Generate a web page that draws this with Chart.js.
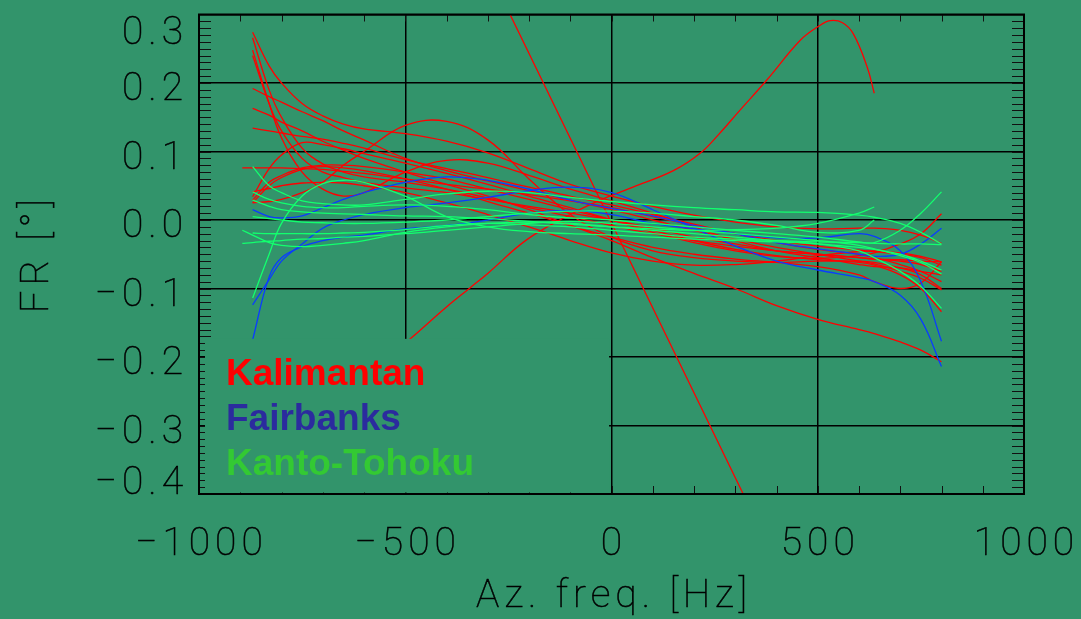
<!DOCTYPE html>
<html lang="en">
<head>
  <meta charset="UTF-8">
  <title>FR vs azimuth frequency</title>
  <script src="https://cdn.jsdelivr.net/npm/chart.js"></script>
  <style>
    html, body { margin: 0; padding: 0; background: #32946b; }
    #wrap { width: 1081px; height: 619px; position: relative; }
  </style>
</head>
<body>
  <div id="wrap"><canvas id="frChart"></canvas></div>

  <script>
    // Azimuth frequency grid [Hz] shared by the fitted curves
    const freqs = [-895, -870, -830, -800, -750, -700, -650, -600, -500, -400, -300, -200, -100,
                   0, 100, 200, 300, 400, 500, 600, 637, 700, 750, 800];

    // FR [deg], one row per curve
    const kalimantan = [
      [null, .274, .225, .2, .17, .152, .14, .133, .126, .115, .098, .075, .052, .035, .02, .007, -.003, -.01, -.013, -.012, -.012, -.015, -.022, -.034],
      [null, .266, .19, .15, .105, .082, .07, .063, .055, .045, .032, .018, .005, -.008, -.02, -.03, -.038, -.045, -.05, -.055, -.057, -.06, -.065, -.075],
      [null, .025, .027, .03, .04, .055, .08, .1, .138, .144, .117, .06, .008, -.025, -.045, -.055, -.06, -.062, -.06, -.06, -.062, -.07, -.08, -.1],
      [null, .248, .17, .12, .07, .045, .035, .04, .07, .087, .083, .065, .045, .028, .01, -.01, -.03, -.045, -.055, -.065, -.068, -.07, -.075, -.08],
      [null, .24, .17, .13, .09, .07, .062, .055, .047, .04, .03, .02, .01, 0, -.012, -.025, -.035, -.045, -.05, -.055, -.057, -.058, -.06, -.061],
      [null, .192, .18, .172, .158, .145, .13, .117, .09, .072, .057, .043, .029, .015, 0, -.015, -.028, -.04, -.05, -.06, -.064, -.075, -.085, -.102],
      [null, .163, .153, .143, .13, .115, .102, .09, .07, .052, .035, .015, -.008, -.03, -.055, -.078, -.1, -.125, -.145, -.16, -.166, -.178, -.19, -.207],
      [null, .134, .13, .127, .122, .118, .112, .105, .088, .075, .062, .048, .035, .022, .008, -.006, -.02, -.033, -.043, -.05, -.055, -.065, -.075, -.09],
      [.076, .076, .076, .076, .075, .074, .071, .068, .06, .052, .045, .037, .028, .018, .005, -.008, -.02, -.03, -.038, -.044, -.046, -.05, -.055, -.066],
      [null, .034, .075, .095, .113, .11, .104, .097, .083, .068, .052, .035, .018, 0, -.018, -.033, -.045, -.053, -.056, -.052, -.048, -.035, -.02, .009],
      [null, .029, .055, .065, .076, .08, .08, .078, .07, .06, .045, .03, .015, 0, -.015, -.03, -.043, -.052, -.058, -.062, -.066, -.08, -.1, -.134],
      [null, .025, .05, .062, .074, .078, .076, .072, .06, .045, .027, .01, -.008, -.025, -.04, -.05, -.057, -.062, -.068, -.08, -.09, -.1, -.092, -.061],
      [null, .041, .046, .05, .054, .055, .054, .05, .04, .025, .008, -.01, -.03, -.048, -.06, -.066, -.065, -.06, -.052, -.046, -.045, -.048, -.053, -.061]
    ];
    // two Kalimantan curves with their own frequency range
    const bumpFreqs = [-540, -485, -400, -344, -300, -206, -100, -28, 52, 150, 214, 260, 311, 376, 457, 500, 530, 560, 586, 620, 637];
    const bumpFR = [-.2, -.172, -.127, -.0995, -.078, -.029, .008, .029, .048, .072, .097, .125, .16, .204, .262, .282, .291, .288, .272, .223, .185];
    const steepFreqs = [-300, 350];
    const steepFR = [.367, -.438];

    const fairbanks = [
      [null, .015, .005, .003, .006, .018, .03, .04, .055, .063, .058, .045, .029, .017, .006, -.008, -.02, -.033, -.042, -.05, -.053, -.05, -.035, -.012],
      [null, -.124, -.087, -.06, -.035, -.012, 0, .008, .018, .025, .033, .043, .048, .04, .015, -.012, -.038, -.06, -.073, -.084, -.09, -.11, -.145, -.214],
      [null, -.175, -.083, -.055, -.039, -.03, -.025, -.022, -.013, -.008, 0, .01, .014, .008, -.005, -.013, -.02, -.026, -.026, -.02, -.024, -.045, -.09, -.177]
    ];

    const kantoTohoku = [
      [null, .078, .05, .04, .028, .024, .022, .022, .03, .038, .042, .04, .033, .027, .022, .018, .015, .012, .011, .007, .004, -.005, -.018, -.035],
      [null, .041, .03, .025, .02, .018, .018, .02, .022, .02, .015, .008, .003, 0, -.005, -.01, -.015, -.02, -.025, -.032, -.033, -.015, .01, .041],
      [null, .029, .02, .015, .012, .01, .009, .008, .006, .005, .002, -.002, -.006, -.01, -.013, -.015, -.014, -.012, -.005, .01, .019, null, null, null],
      [null, .005, .002, 0, -.003, -.004, -.005, -.005, -.003, 0, .005, .01, .013, .013, .01, .005, 0, -.008, -.018, -.015, 0, null, null, null],
      [-.015, -.022, -.033, -.037, -.039, -.037, -.034, -.03, -.018, -.01, -.005, -.003, -.005, -.01, -.015, -.02, -.025, -.03, -.035, -.04, -.043, -.05, -.06, -.073],
      [-.034, -.033, -.031, -.03, -.028, -.027, -.025, -.024, -.02, -.015, -.01, -.005, -.002, -.005, -.01, -.015, -.02, -.025, -.03, -.037, -.042, -.052, -.062, -.079],
      [null, -.019, -.02, -.02, -.02, -.02, -.019, -.018, -.014, -.008, -.005, -.007, -.01, -.015, -.02, -.025, -.028, -.03, -.032, -.033, -.034, -.035, -.035, -.036],
      [null, -.114, -.05, -.005, .035, .053, .058, .055, .035, .005, -.01, -.017, -.02, -.022, -.025, -.028, -.03, -.032, -.035, -.045, -.055, -.075, -.097, -.129]
    ];

    const xTicks = [-1000, -500, 0, 500, 1000];
    const xTickLabels = ['\u22121000', '\u2212500', '0', '500', '1000'];
    const yTicks = [0.3, 0.2, 0.1, 0.0, -0.1, -0.2, -0.3, -0.4];
    const yTickLabels = ['0.3', '0.2', '0.1', '0.0', '\u22120.1', '\u22120.2', '\u22120.3', '\u22120.4'];
    const legendNames = ['Kalimantan', 'Fairbanks', 'Kanto-Tohoku'];
    const legendColors = ['#ff0000', '#2b2b9e', '#33c933'];

    const BG = '#32946b';
    const TICK_FONT = '100 39px Roboto, "DejaVu Sans", sans-serif';

    function curve(xs, ys, color) {
      return {
        data: xs.map((f, i) => ({ x: f, y: ys[i] })),
        borderColor: color,
        borderWidth: 1.3,
        pointRadius: 0,
        fill: false,
        tension: 0.4
      };
    }

    // greens first so they end up on top (Chart.js paints the last dataset first)
    const datasets = [];
    kantoTohoku.forEach(c => datasets.push(curve(freqs, c, '#12ff6e')));
    fairbanks.forEach(c => datasets.push(curve(freqs, c, '#0a3cff')));
    kalimantan.forEach(c => datasets.push(curve(freqs, c, '#ff0000')));
    datasets.push(curve(bumpFreqs, bumpFR, '#ff0000'));
    datasets.push(curve(steepFreqs, steepFR, '#ff0000'));

    // thin text, stroked lightly so it reads as dark as the original
    function label(ctx, text, x, y) {
      ctx.fillText(text, x, y);
      ctx.strokeText(text, x, y);
    }

    // minor ticks, legend panel, frame and all text
    const decor = {
      id: 'decor',
      afterDatasetsDraw(chart) {
        const { ctx, chartArea: a, scales: { x, y } } = chart;
        ctx.save();
        ctx.strokeStyle = '#111';
        ctx.lineWidth = 1;
        ctx.beginPath();
        for (let f = -900; f <= 900; f += 100) {
          const px = Math.round(x.getPixelForValue(f)) + 0.5;
          ctx.moveTo(px, a.top); ctx.lineTo(px, a.top + 7);
          ctx.moveTo(px, a.bottom); ctx.lineTo(px, a.bottom - 8);
        }
        for (let k = -39; k <= 29; k++) {
          const py = Math.round(y.getPixelForValue(k / 100)) + 0.5;
          ctx.moveTo(a.left, py); ctx.lineTo(a.left + 12, py);
          ctx.moveTo(a.right, py); ctx.lineTo(a.right - 12, py);
        }
        ctx.stroke();

        // legend panel hides what lies under it
        const boxTop = y.getPixelForValue(-0.1735);
        const boxRight = x.getPixelForValue(-6);
        ctx.fillStyle = BG;
        ctx.fillRect(a.left + 6, boxTop, boxRight - a.left - 6, a.bottom - 1.5 - boxTop);

        ctx.font = 'bold 37px "Liberation Sans", Arial, sans-serif';
        ctx.textAlign = 'left';
        ctx.textBaseline = 'alphabetic';
        legendNames.forEach((name, i) => {
          ctx.fillStyle = legendColors[i];
          ctx.fillText(name, a.left + 27, boxTop + 46 + i * 45);
        });

        // frame
        ctx.strokeStyle = '#000';
        ctx.lineWidth = 2;
        ctx.strokeRect(a.left, a.top, a.right - a.left, a.bottom - a.top);
        ctx.restore();
      },
      afterDraw(chart) {
        const { ctx, chartArea: a, scales: { x, y } } = chart;
        ctx.save();
        ctx.fillStyle = '#000';
        ctx.strokeStyle = '#000';
        ctx.lineWidth = 0.5;
        ctx.font = TICK_FONT;
        ctx.letterSpacing = '5px';
        ctx.textBaseline = 'alphabetic';

        ctx.textAlign = 'right';
        yTicks.forEach((v, i) => {
          const base = Math.min(Math.max(y.getPixelForValue(v) + 17, a.top + 29), a.bottom);
          label(ctx, yTickLabels[i], a.left - 11, base);
        });

        ctx.textAlign = 'center';
        xTicks.forEach((v, i) => {
          label(ctx, xTickLabels[i], x.getPixelForValue(v) + 2.5, a.bottom + 61);
        });

        label(ctx, 'Az. freq. [Hz]', (a.left + a.right) / 2 + 2.5, a.bottom + 113);

        ctx.translate(48, 256);
        ctx.rotate(-Math.PI / 2);
        label(ctx, 'FR [\u00b0]', 2.5, 0);
        ctx.restore();
      }
    };

    new Chart(document.getElementById('frChart'), {
      type: 'line',
      data: { datasets },
      options: {
        responsive: true,
        maintainAspectRatio: false,
        animation: false,
        layout: { padding: { left: 199, right: 57, top: 14.5, bottom: 125 } },
        plugins: { legend: { display: false }, tooltip: { enabled: false } },
        scales: {
          x: {
            type: 'linear', min: -1000, max: 1000,
            ticks: { display: false, stepSize: 500 },
            grid: { color: '#000', lineWidth: 1.5, drawTicks: false },
            border: { display: false }
          },
          y: {
            type: 'linear', min: -0.4, max: 0.3,
            ticks: { display: false, stepSize: 0.1 },
            grid: { color: '#000', lineWidth: 1.5, drawTicks: false },
            border: { display: false }
          }
        }
      },
      plugins: [decor]
    });
  </script>
</body>
</html>
